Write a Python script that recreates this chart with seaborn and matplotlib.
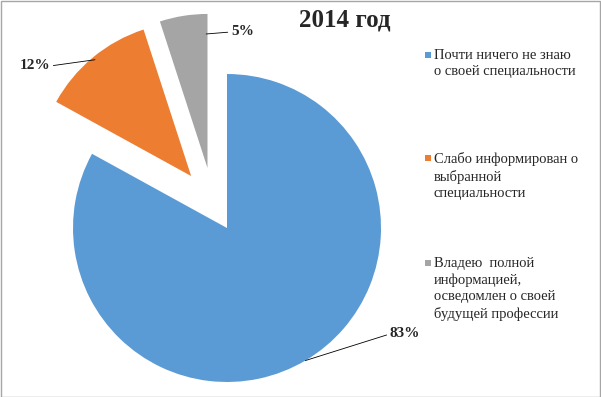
import matplotlib
matplotlib.use("Agg")
import matplotlib.pyplot as plt
from matplotlib.patches import Rectangle
import numpy as np
import seaborn as sns

# ---- data ----
TITLE = "2014 год"
CATEGORIES = [
    "Почти ничего не знаю\nо своей специальности",
    "Слабо информирован о\nвыбранной\nспециальности",
    "Владею  полной\nинформацией,\nосведомлен о своей\nбудущей профессии",
]
VALUES = [83, 12, 5]
EXPLODE = [0.0, 0.41, 0.41]
COLORS = ["#5B9BD5", "#ED7D31", "#A5A5A5"]

# ---- layout (pixels of the 601x397 picture) ----
W, H, DPI = 601, 397, 100
CX, CY, R = 227, 228, 154          # pie centre / radius in px
EXPLODE_TWIST = [0, -5, 9]         # degrees, Excel pushes slices slightly off the bisector

sns.set_theme(style="white")
plt.rcParams['font.family'] = ['Liberation Serif', 'DejaVu Serif']

fig = plt.figure(figsize=(W / DPI, H / DPI), dpi=DPI)
ax = fig.add_axes([0, 0, 1, 1])

wedges, _ = ax.pie(VALUES, colors=COLORS, explode=EXPLODE, startangle=90,
                   counterclock=False, radius=1.0,
                   wedgeprops=dict(linewidth=0))
# nudge exploded slices the way Excel does
for w, e, tw in zip(wedges, EXPLODE, EXPLODE_TWIST):
    a = np.deg2rad((w.theta1 + w.theta2) / 2 + tw)
    w.set_center((e * np.cos(a), e * np.sin(a)))

ax.set_aspect("auto")
ax.set_xlim(-CX / R, (W - CX) / R)
ax.set_ylim(-(H - CY) / R, CY / R)
ax.axis("off")

# percentage labels with leader lines
label_pos = [(1.058, -0.688, "left"), (-1.149, 1.052, "right"), (0.026, 1.273, "left")]
anchor = [(0.5, 1.0), (0.5, 0.98), (0.97, 0.87)]   # (fraction along wedge angle, radius)
total = sum(VALUES)
for w, v, (tx, ty, ha), (fa, fr) in zip(wedges, VALUES, label_pos, anchor):
    t1, t2 = w.theta1, w.theta2
    ang = np.deg2rad(t2 - fa * (t2 - t1))
    cx, cy = w.center
    px, py = cx + fr * np.cos(ang), cy + fr * np.sin(ang)
    ax.annotate(f"{v / total * 100:.0f}%", xy=(px, py), xytext=(tx, ty),
                ha=ha, va="center", fontsize=11, fontweight="bold",
                arrowprops=dict(arrowstyle="-", color="black", lw=0.6,
                                shrinkA=0, shrinkB=0,
                                relpos=(0, 0.5) if ha == "left" else (1, 0.5)))

fig.text(345 / W, 1 - 20 / H, TITLE, ha="center", va="center",
         fontsize=18, fontweight="bold")

# legend drawn by hand (markers aligned with first text line)
leg_tops = [49, 152, 257]
for lab, col, top in zip(CATEGORIES, COLORS, leg_tops):
    fig.add_artist(Rectangle((425 / W, 1 - (top + 9) / H), 6 / W, 6 / H,
                             transform=fig.transFigure, color=col, lw=0))
    fig.text(434 / W, 1 - top / H, lab, ha="left", va="top",
             fontsize=10.5, linespacing=1.32, color="#262626")

# outer border
fig.add_artist(Rectangle((0.5 / W, 0.5 / H), 1 - 1.5 / W, 1 - 1.5 / H,
                         transform=fig.transFigure, fill=False,
                         edgecolor="#A6A6A6", lw=1))

fig.savefig("out.png", dpi=DPI)
